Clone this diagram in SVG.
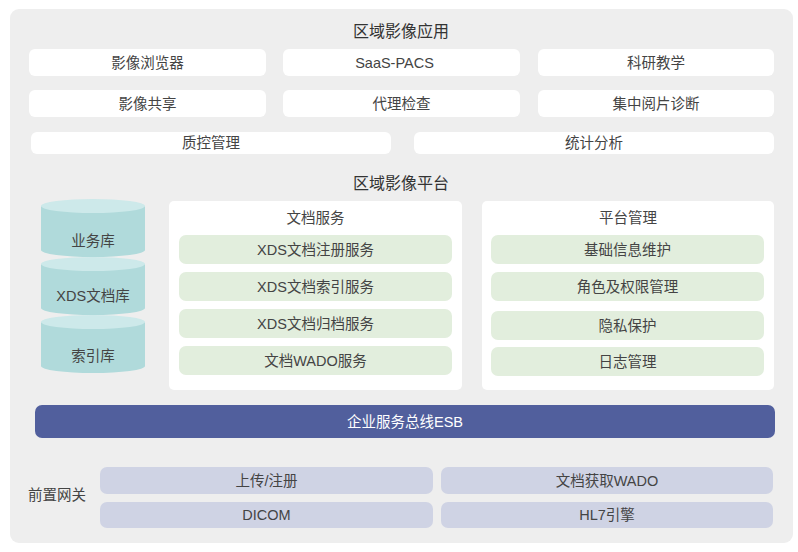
<svg xmlns="http://www.w3.org/2000/svg" width="798" height="552" viewBox="0 0 798 552">
<style>
text{font-family:"Liberation Sans","Noto Sans CJK SC",sans-serif;fill:#444;text-anchor:middle;dominant-baseline:central;font-size:14.5px}
.t{font-size:16px;fill:#333}
.w{fill:#ffffff}
.g{fill:#e2eedd}
.gw{fill:#cfd3e4}
.cb{fill:#b0dadb}
.ct{fill:#cde9ea}
.esb{fill:#515f9d}
.wt{fill:#ffffff}
</style>
<rect width="798" height="552" fill="#ffffff"/>
<rect x="10" y="9" width="783" height="534" rx="9" fill="#eeeeee"/>
<text class="t" x="401" y="31">区域影像应用</text>
<g id="app-browser"><rect class="w" x="29" y="49" width="237" height="27" rx="6"/><text x="147.5" y="62.5">影像浏览器</text></g>
<g id="app-saas"><rect class="w" x="283" y="49" width="237" height="27" rx="6"/><text x="394.5" y="62.5">SaaS-PACS</text></g>
<g id="app-research"><rect class="w" x="538" y="49" width="236" height="27" rx="6"/><text x="656" y="62.5">科研教学</text></g>
<g id="app-share"><rect class="w" x="29" y="90" width="237" height="27" rx="6"/><text x="147.5" y="103.5">影像共享</text></g>
<g id="app-proxy"><rect class="w" x="283" y="90" width="237" height="27" rx="6"/><text x="401.5" y="103.5">代理检查</text></g>
<g id="app-central"><rect class="w" x="538" y="90" width="236" height="27" rx="6"/><text x="656" y="103.5">集中阅片诊断</text></g>
<g id="app-qc"><rect class="w" x="31" y="132" width="360" height="22" rx="6"/><text x="211" y="143">质控管理</text></g>
<g id="app-stats"><rect class="w" x="414" y="132" width="360" height="22" rx="6"/><text x="594" y="143">统计分析</text></g>
<text class="t" x="401" y="183">区域影像平台</text>
<g id="db-business">
<path class="cb" d="M41,206 V250 A52,7 0 0 0 145,250 V206 Z"/>
<ellipse class="ct" cx="93" cy="206" rx="52" ry="7"/>
<text x="93" y="241">业务库</text>
</g>
<g id="db-xds">
<path class="cb" d="M41,264 V308 A52,7 0 0 0 145,308 V264 Z"/>
<ellipse class="ct" cx="93" cy="264" rx="52" ry="7"/>
<text x="93" y="296">XDS文档库</text>
</g>
<g id="db-index">
<path class="cb" d="M41,322 V366 A52,7 0 0 0 145,366 V322 Z"/>
<ellipse class="ct" cx="93" cy="322" rx="52" ry="7"/>
<text x="93" y="356">索引库</text>
</g>
<g id="doc-service">
<rect class="w" x="169" y="201" width="293" height="189" rx="5"/>
<text x="315.5" y="218">文档服务</text>
<rect class="g" x="179" y="235" width="273" height="29" rx="7"/><text x="315.5" y="249.5">XDS文档注册服务</text>
<rect class="g" x="179" y="272" width="273" height="29" rx="7"/><text x="315.5" y="286.5">XDS文档索引服务</text>
<rect class="g" x="179" y="309" width="273" height="29" rx="7"/><text x="315.5" y="323.5">XDS文档归档服务</text>
<rect class="g" x="179" y="346" width="273" height="29" rx="7"/><text x="315.5" y="360.5">文档WADO服务</text>
</g>
<g id="platform-mgmt">
<rect class="w" x="482" y="201" width="292" height="189" rx="5"/>
<text x="628" y="218">平台管理</text>
<rect class="g" x="491" y="235" width="273" height="29" rx="7"/><text x="627.5" y="249.5">基础信息维护</text>
<rect class="g" x="491" y="272" width="273" height="29" rx="7"/><text x="627.5" y="286.5">角色及权限管理</text>
<rect class="g" x="491" y="311" width="273" height="29" rx="7"/><text x="627.5" y="325.5">隐私保护</text>
<rect class="g" x="491" y="347" width="273" height="29" rx="7"/><text x="627.5" y="361.5">日志管理</text>
</g>
<g id="esb"><rect class="esb" x="35" y="405" width="740" height="33" rx="7"/><text class="wt" x="405" y="421.5">企业服务总线ESB</text></g>
<g id="gateway">
<text x="57" y="495">前置网关</text>
<rect class="gw" x="100" y="467" width="333" height="27" rx="7"/><text x="266.5" y="480.5">上传/注册</text>
<rect class="gw" x="441" y="467" width="332" height="27" rx="7"/><text x="607" y="480.5">文档获取WADO</text>
<rect class="gw" x="100" y="502" width="333" height="26" rx="7"/><text x="266.5" y="515">DICOM</text>
<rect class="gw" x="441" y="502" width="332" height="26" rx="7"/><text x="607" y="515">HL7引擎</text>
</g>
<g id="connectors"></g>
</svg>
